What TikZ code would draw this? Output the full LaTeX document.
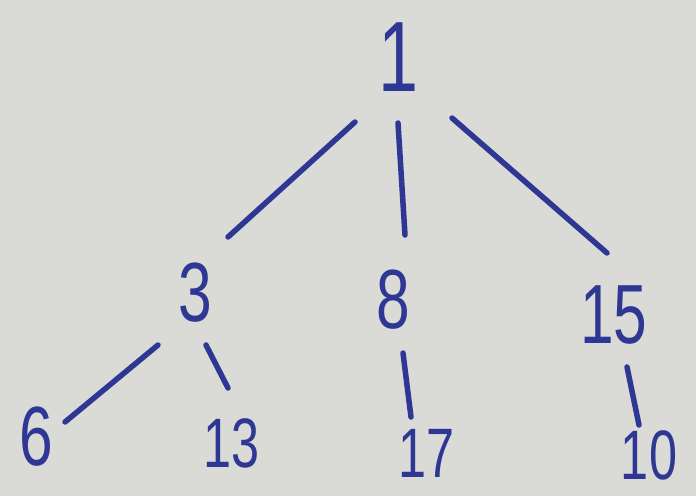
\documentclass[tikz,border=0pt]{standalone}
\usepackage{fontspec}
\newfontfamily\handfont[FakeStretch=0.72]{Liberation Sans}
\definecolor{paper}{RGB}{218,218,214}
\definecolor{ink}{RGB}{46,56,148}
\begin{document}
\begin{tikzpicture}[x=1pt,y=-1pt,
  lbl/.style={inner sep=0pt,text=ink,font=\handfont\fontsize{84}{84}\selectfont},
  big/.style={lbl,font=\handfont\fontsize{100}{100}\selectfont},
  small/.style={lbl,font=\handfont\fontsize{70}{70}\selectfont},
  edge/.style={draw=ink,line width=5.5pt,line cap=round}]
\fill[paper] (0,0) rectangle (696,496);
\useasboundingbox (0,0) rectangle (696,496);
\node[big] (n1) at (399,57) {1};
\node[lbl] (n3) at (195,293) {3};
\node[lbl] (n8) at (393,300) {8};
\node[lbl] (n15) at (614,315) {15};
\node[lbl] (n6) at (36,437) {6};
\node[small] (n13) at (232,443) {13};
\node[small] (n17) at (427,453) {17};
\node[small] (n10) at (649,455) {10};
\draw[edge] ([shift={(-44,65)}]n1.center) -- ([shift={(33,-56)}]n3.center);
\draw[edge] ([shift={(-1,66)}]n1.center) -- ([shift={(12,-65)}]n8.center);
\draw[edge] ([shift={(53,61)}]n1.center) -- ([shift={(-7,-62)}]n15.center);
\draw[edge] ([shift={(-37,52)}]n3.center) -- ([shift={(29,-15)}]n6.center);
\draw[edge] ([shift={(11,52)}]n3.center) -- ([shift={(-4,-55)}]n13.center);
\draw[edge] ([shift={(10,53)}]n8.center) -- ([shift={(-16,-36)}]n17.center);
\draw[edge] ([shift={(13,52)}]n15.center) -- ([shift={(-10,-30)}]n10.center);
\end{tikzpicture}
\end{document}
